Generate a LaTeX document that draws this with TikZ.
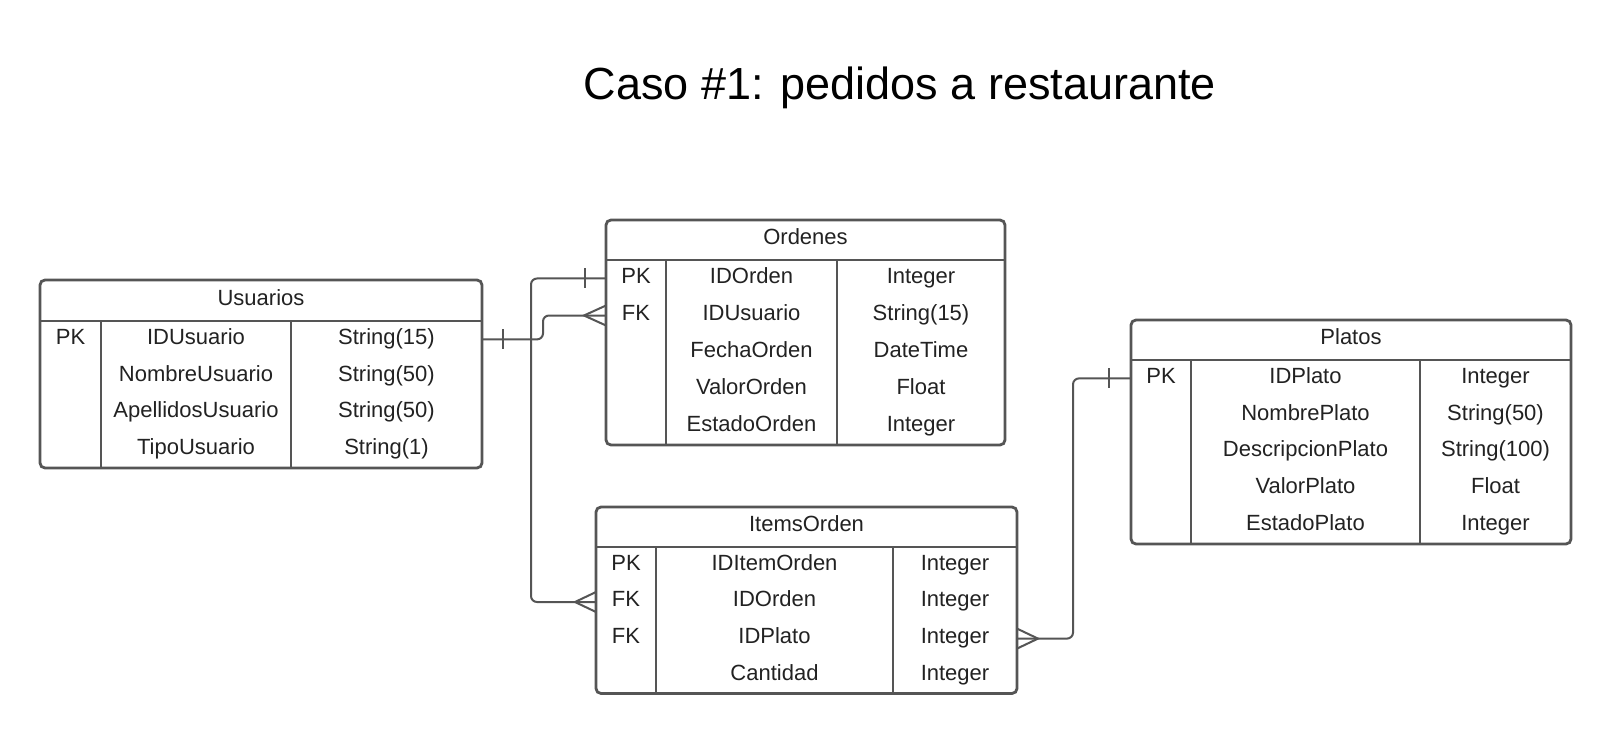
\documentclass[tikz,border=0pt]{standalone}
\usepackage{fontspec}
\setmainfont{Liberation Sans}
\usetikzlibrary{calc}
\definecolor{ln}{HTML}{555555}
\definecolor{tx}{HTML}{222222}
\begin{document}
\begin{tikzpicture}[x=1pt,y=-1pt,
  tbl/.style={draw=ln, fill=white, line width=2.8pt, rounded corners=5pt, inner sep=0pt, outer sep=0pt},
  cell/.style={font=\fontsize{22}{24}\selectfont, text=tx, inner sep=0pt, text height=15.8pt, text depth=6pt},
  sepline/.style={draw=ln, line width=2.8pt},
  conn/.style={draw=ln, line width=2pt, rounded corners=6pt},
  barl/.style={draw=ln, line width=2pt},
  crow/.style={draw=ln, line width=2pt}
]
\fill[white] (0,0) rectangle (1611,735);
\useasboundingbox (0,0) rectangle (1611,735);

\node[font=\fontsize{45}{54}\selectfont, anchor=base, inner sep=0pt, text=black] (title) at (900,99.5) {Caso \#1: pedidos a restaurante};

% ---------- Usuarios ----------
\node[tbl, minimum width=442pt, minimum height=188pt] (usuarios) at (261,374) {};
\draw[sepline] (usuarios.west |- 0,321) -- (usuarios.east |- 0,321);
\draw[sepline] (101,321) -- (101,468);
\draw[sepline] (291,321) -- (291,468);
\node[cell] (usuarios-h) at (261,300.5) {Usuarios};
\foreach \k/\n/\t/\y [count=\i] in {PK/IDUsuario/String(15)/339.4, {}/NombreUsuario/String(50)/376.1, {}/ApellidosUsuario/String(50)/412.9, {}/TipoUsuario/String(1)/449.6}{
  \node[cell] (uk\i) at (70.5,\y) {\k};
  \node[cell] (u\i) at (196,\y) {\n};
  \node[cell] (ut\i) at (386.5,\y) {\t};
}

% ---------- Ordenes ----------
\node[tbl, minimum width=399pt, minimum height=225pt] (ordenes) at (805.5,332.5) {};
\draw[sepline] (ordenes.west |- 0,260) -- (ordenes.east |- 0,260);
\draw[sepline] (666,260) -- (666,445);
\draw[sepline] (837,260) -- (837,445);
\node[cell] (ordenes-h) at (805.5,240) {Ordenes};
\foreach \k/\n/\t/\y [count=\i] in {PK/IDOrden/Integer/278.5, FK/IDUsuario/String(15)/315.5, {}/FechaOrden/DateTime/352.5, {}/ValorOrden/Float/389.5, {}/EstadoOrden/Integer/426.5}{
  \node[cell] (ok\i) at (636,\y) {\k};
  \node[cell] (o\i) at (751.5,\y) {\n};
  \node[cell] (ot\i) at (921,\y) {\t};
}

% ---------- ItemsOrden ----------
\node[tbl, minimum width=421pt, minimum height=186.5pt] (items) at (806.5,600.25) {};
\draw[sepline] (items.west |- 0,547) -- (items.east |- 0,547);
\draw[sepline] (656,547) -- (656,693.5);
\draw[sepline] (893,547) -- (893,693.5);
\node[cell] (items-h) at (806.5,527) {ItemsOrden};
\foreach \k/\n/\t/\y [count=\i] in {PK/IDItemOrden/Integer/565.3, FK/IDOrden/Integer/602, FK/IDPlato/Integer/638.6, {}/Cantidad/Integer/675.2}{
  \node[cell] (ik\i) at (626,\y) {\k};
  \node[cell] (i\i) at (774.5,\y) {\n};
  \node[cell] (it\i) at (955,\y) {\t};
}

% ---------- Platos ----------
\node[tbl, minimum width=440pt, minimum height=224pt] (platos) at (1351,432) {};
\draw[sepline] (platos.west |- 0,360) -- (platos.east |- 0,360);
\draw[sepline] (1191,360) -- (1191,544);
\draw[sepline] (1420,360) -- (1420,544);
\node[cell] (platos-h) at (1351,340) {Platos};
\foreach \k/\n/\t/\y [count=\i] in {PK/IDPlato/Integer/378.4, {}/NombrePlato/String(50)/415.2, {}/DescripcionPlato/String(100)/452, {}/ValorPlato/Float/488.8, {}/EstadoPlato/Integer/525.6}{
  \node[cell] (pk\i) at (1161,\y) {\k};
  \node[cell] (p\i) at (1305.5,\y) {\n};
  \node[cell] (pt\i) at (1495.5,\y) {\t};
}

% ---------- Connectors ----------
% Usuarios -> Ordenes
\draw[conn] (usuarios.east |- u1) -- ++(61,0) |- (ordenes.west |- o2);
\draw[barl] ($(usuarios.east |- u1)+(21,-10)$) -- ++(0,20);
\draw[crow] ($(ordenes.west |- o2)+(0,-10)$) -- ($(ordenes.west |- o2)+(-22,0)$) -- ($(ordenes.west |- o2)+(0,10)$);

% Ordenes -> ItemsOrden
\draw[conn] (ordenes.west |- o1) -- ++(-75,0) |- (items.west |- i2);
\draw[barl] ($(ordenes.west |- o1)+(-21,-10)$) -- ++(0,20);
\draw[crow] ($(items.west |- i2)+(0,-10)$) -- ($(items.west |- i2)+(-21,0)$) -- ($(items.west |- i2)+(0,10)$);

% Platos -> ItemsOrden
\draw[conn] (items.east |- i3) -- ++(56,0) |- (platos.west |- p1);
\draw[crow] ($(items.east |- i3)+(0,-10)$) -- ($(items.east |- i3)+(21,0)$) -- ($(items.east |- i3)+(0,10)$);
\draw[barl] ($(platos.west |- p1)+(-22,-10)$) -- ++(0,20);
\end{tikzpicture}
\end{document}
